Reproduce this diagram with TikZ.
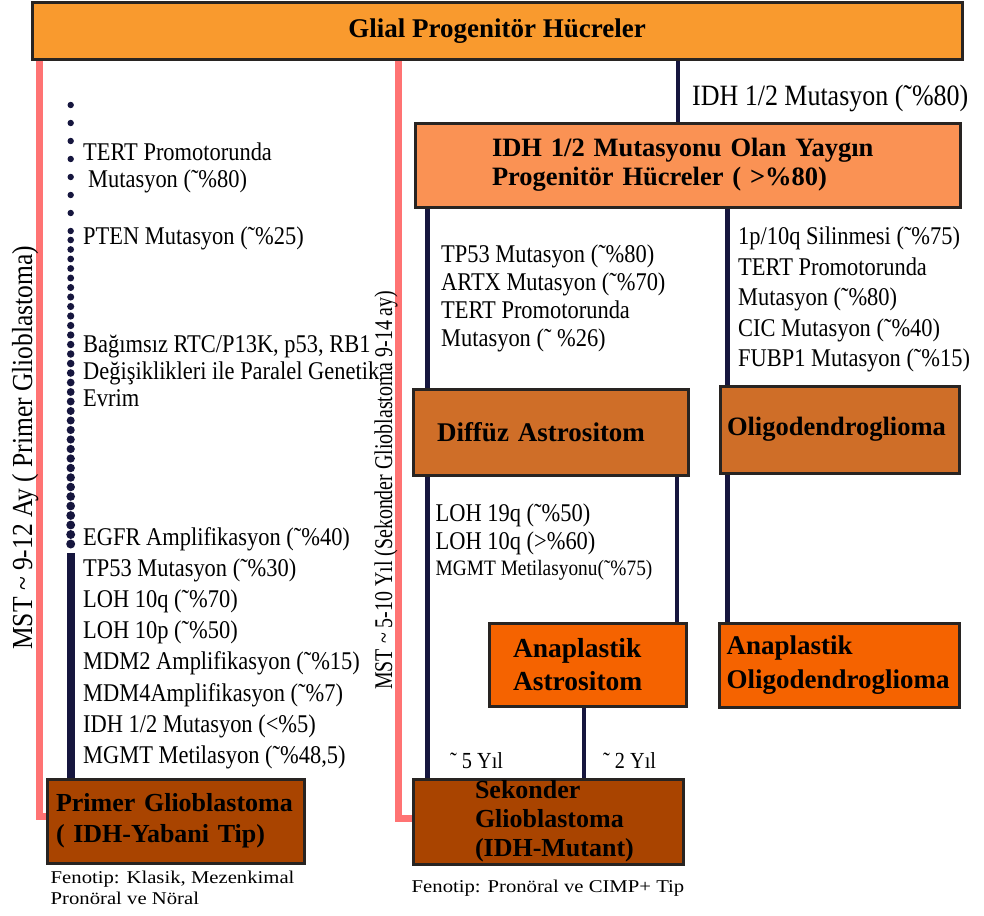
\documentclass[tikz,border=0pt]{standalone}
\usepackage{fontspec}
\setmainfont{Liberation Serif}
\newfontfamily\evofont{Liberation Serif}[FakeStretch=0.88]
\newfontfamily\mstfont{Liberation Serif}[FakeStretch=0.78]
\newfontfamily\phenofont{Liberation Serif}[FakeStretch=1.15]
\usetikzlibrary{positioning}
\definecolor{barorange}{RGB}{249,154,46}
\definecolor{idhorange}{RGB}{250,146,84}
\definecolor{midorange}{RGB}{207,110,40}
\definecolor{hotorange}{RGB}{245,99,0}
\definecolor{gbmbrown}{RGB}{169,68,0}
\definecolor{navyline}{RGB}{22,22,62}
\definecolor{pinkline}{RGB}{255,115,115}
\definecolor{boxedge}{RGB}{40,36,34}
\newcommand{\cellfont}[2]{\bfseries\fontsize{#1}{#2}\selectfont\hyphenpenalty=10000\exhyphenpenalty=10000}
\newcommand{\evosize}[2]{\evofont\fontsize{#1}{#2}\selectfont}
\tikzstyle{lane}     = [coordinate]
\tikzstyle{box}      = [draw=boxedge, line width=3pt, rectangle, inner ysep=0pt, align=left]
\tikzstyle{link}     = [draw=navyline, line width=4.5pt]
\tikzstyle{pinkpath} = [draw=pinkline, line width=7pt]
\tikzstyle{note}     = [inner sep=0pt, anchor=north west, align=left]

\begin{document}
\begin{tikzpicture}[x=1pt, y=-1pt]
	\useasboundingbox (0,0) rectangle (984,915);

	% boxes
	\node [box, fill=barorange, align=center, minimum width=930pt, minimum height=57pt, font=\cellfont{27}{30}] (glial) at (497,31.5) {Glial Progenitör Hücreler};
	\node [box, fill=idhorange, text width=391pt, inner xsep=77pt, minimum height=84pt, font=\cellfont{26.5}{29}] (idh) at (687.5,165) {IDH 1/2 Mutasyonu Olan Yaygın\\Progenitör Hücreler ( >\%80)};
	\node [box, fill=midorange, text width=227pt, inner xsep=24pt, minimum height=86pt, font=\cellfont{27}{29}] (diffuz) at (550.5,432) {Diffüz Astrositom};
	\node [box, fill=midorange, text width=225pt, inner xsep=7pt, minimum height=87pt, font=\cellfont{26.5}{29}] (oligo) at (839.5,429.5) {Oligodendroglioma};
	\node [box, fill=hotorange, text width=149pt, inner xsep=24pt, minimum height=83pt, font=\cellfont{27.5}{33}] (anaA) at (587.5,664.5) {Anaplastik\\Astrositom};
	\node [box, fill=hotorange, text width=226pt, inner xsep=7pt, minimum height=84pt, font=\cellfont{27}{34}, below=147pt of oligo] (anaO) {Anaplastik\\Oligodendroglioma};
	\node [box, fill=gbmbrown, text width=146pt, inner xsep=62pt, minimum height=85pt, font=\cellfont{26}{29}] (sek) at (548,821.5) {Sekonder\\Glioblastoma\\(IDH-Mutant)};
	\node [box, fill=gbmbrown, text width=249pt, inner xsep=4pt, minimum height=84pt, font=\cellfont{26}{31}] (primer) at (175.5,821) {\hspace*{5pt}Primer Glioblastoma\\\hspace*{5pt}( IDH-Yabani Tip)};

	% lanes of the connectors
	\node [lane] (split) at (678,0) {};
	\node [lane] (laneA) at (427.5,0) {};
	\node [lane] (laneB) at (677,0) {};
	\node [lane] (laneC) at (727.5,0) {};
	\node [lane] (laneD) at (584,0) {};
	\node [lane] (pinkL) at (39,0) {};
	\node [lane] (pinkR) at (398,0) {};
	\node [lane] (evo) at (70.7,553) {};

	\draw [link] (glial.south -| split) -- (idh.north -| split);
	\draw [link] (idh.south -| laneA) -- (diffuz.north -| laneA);
	\draw [link] (idh.south -| laneC) -- (oligo.north -| laneC);
	\draw [link] (diffuz.south -| laneA) -- (sek.north -| laneA);
	\draw [link] (diffuz.south -| laneB) -- (anaA.north -| laneB);
	\draw [link] (oligo.south -| laneC) -- (anaO.north -| laneC);
	\draw [link] (anaA.south -| laneD) -- (sek.north -| laneD);
	\draw [pinkpath] (glial.south -| pinkL) |- ([yshift=5pt]primer.west);
	\draw [pinkpath] (glial.south -| pinkR) |- ([yshift=3.5pt]sek.west);

	% sparse dots, denser dots, then the solid line
	\foreach \i in {0,...,7}
		\fill [navyline] (70.7,105+18*\i) circle (3.2pt);
	\foreach \j in {0,...,32}{
		\pgfmathsetmacro{\dr}{3.3+1.2*\j/32}
		\fill [navyline] (70.7,240+9.5*\j) circle (\dr pt);
	}
	\draw [navyline, line width=8pt] (evo) -- (evo |- primer.north);

	% texts
	\node [note, font=\evosize{29.5}{31}] (idhlabel) at (692,85) {IDH 1/2 Mutasyon (˜\%80)};
	\node [note, font=\evosize{25.5}{27}] (tert) at (83,143) {TERT Promotorunda\\\hspace*{5pt}Mutasyon (˜\%80)};
	\node [note, font=\evosize{25.5}{27}] (pten) at (83,227) {PTEN Mutasyon (˜\%25)};
	\node [note, font=\evosize{25.5}{27}] (bagimsiz) at (83,335) {Bağımsız RTC/P13K, p53, RB1\\Değişiklikleri ile Paralel Genetik\\Evrim};
	\node [note, font=\evosize{25.5}{31.2}] (primerlist) at (83,527) {EGFR Amplifikasyon (˜\%40)\\TP53 Mutasyon (˜\%30)\\LOH 10q (˜\%70)\\LOH 10p (˜\%50)\\MDM2 Amplifikasyon (˜\%15)\\MDM4Amplifikasyon (˜\%7)\\IDH 1/2 Mutasyon (<\%5)\\MGMT Metilasyon (˜\%48,5)};
	\node [note, font=\evosize{25.5}{28}] (astrolist) at (441,245) {TP53 Mutasyon (˜\%80)\\ARTX Mutasyon (˜\%70)\\TERT Promotorunda\\Mutasyon (˜ \%26)};
	\node [note, font=\evosize{25.5}{30.5}] (oligolist) at (738,227) {1p/10q Silinmesi (˜\%75)\\TERT Promotorunda\\Mutasyon (˜\%80)\\CIC Mutasyon (˜\%40)\\FUBP1 Mutasyon (˜\%15)};
	\node [note, font=\evosize{25.5}{28}] (lohlist) at (435.5,504) {LOH 19q (˜\%50)\\LOH 10q (>\%60)};
	\node [note, font=\evosize{22}{26}] (mgmt) at (435.5,560) {MGMT Metilasyonu(˜\%75)};
	\node [note, font=\evosize{23}{26}] (fiveyr) at (450,752) {˜ 5 Yıl};
	\node [note, font=\evosize{23}{26}] (twoyr) at (603,752) {˜ 2 Yıl};
	\node [note, font=\phenofont\fontsize{18}{21}\selectfont, below right=6pt and 5pt of primer.south west] (primerpheno) {Fenotip: Klasik, Mezenkimal\\Pronöral ve Nöral};
	\node [note, font=\phenofont\fontsize{18}{21}\selectfont, below right=14.5pt and 0pt of sek.south west] (sekpheno) {Fenotip: Pronöral ve CIMP+ Tip};

	% survival along the pink lines
	\node [inner sep=0pt, anchor=base west, rotate=90, font=\evosize{29}{32}] (mstprimer) at (32,650) {MST \textasciitilde{} 9-12 Ay ( Primer Glioblastoma)};
	\node [inner sep=0pt, anchor=base west, rotate=90, font=\mstfont\fontsize{25.5}{28}\selectfont] (mstsek) at (392,690) {MST \textasciitilde{} 5-10 Yıl (Sekonder Glioblastoma 9-14 ay)};
\end{tikzpicture}
\end{document}
